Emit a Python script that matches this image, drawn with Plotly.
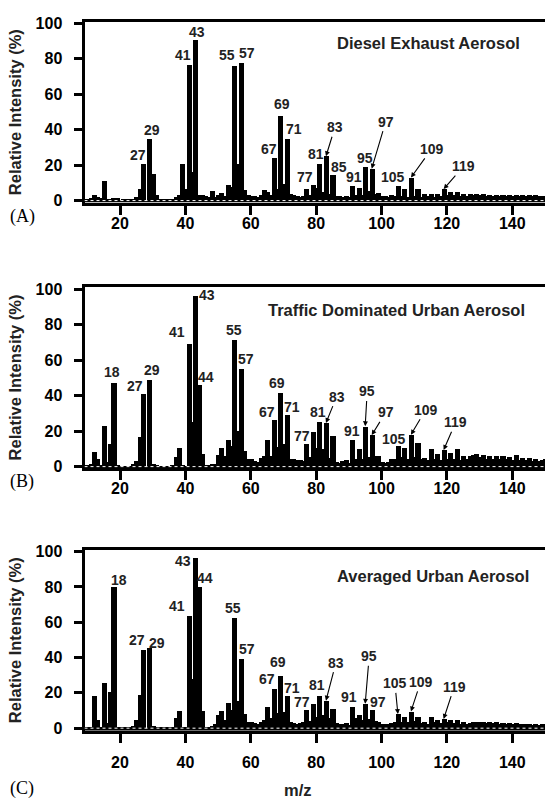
import plotly.graph_objects as go

# ---------------- data ----------------
mz = list(range(10, 151))

diesel = [1.0, 1.5, 3.0, 2.0, 1.5, 11.0, 1.0, 1.0, 1.5, 1.5,
          0.0, 0.8, 0.8, 0.8, 1.0, 2.0, 6.5, 21.0, 0.0, 35.0,
          15.0, 3.0, 1.0, 1.0, 1.0, 1.0, 1.2, 2.0, 3.5, 20.5,
          6.5, 76.5, 16.5, 90.5, 3.0, 3.5, 2.5, 2.0, 5.5, 2.0,
          3.5, 4.5, 2.5, 9.0, 8.0, 76.0, 20.5, 77.5, 6.0, 3.0,
          2.5, 2.5, 2.0, 3.0, 6.0, 5.0, 3.0, 24.0, 6.5, 48.0,
          9.5, 35.0, 4.0, 3.0, 2.5, 2.2, 2.5, 6.5, 3.5, 9.0,
          7.0, 21.0, 5.0, 25.0, 4.0, 14.5, 2.5, 2.5, 2.2, 2.5,
          2.2, 8.3, 3.0, 7.4, 3.0, 18.9, 5.5, 18.0, 4.0, 4.4,
          2.5, 2.5, 2.2, 3.0, 2.5, 8.1, 2.6, 6.7, 2.2, 13.0,
          2.6, 6.5, 2.2, 3.7, 2.6, 4.0, 2.4, 4.0, 2.6, 6.5,
          3.0, 5.0, 3.0, 5.2, 2.6, 3.7, 2.6, 3.7, 3.0, 4.0,
          3.0, 3.7, 2.8, 3.5, 2.8, 3.5, 2.8, 3.5, 2.8, 3.3,
          2.6, 3.3, 2.6, 3.3, 2.6, 3.2, 2.5, 3.0, 2.5, 2.8,
          2.5]

traffic = [1.0, 1.5, 8.5, 4.5, 1.0, 23.0, 3.0, 13.0, 47.5, 1.0,
           0.8, 0.8, 0.8, 0.8, 1.5, 3.5, 17.0, 41.0, 0.0, 49.0,
           2.0, 1.0, 0.8, 0.8, 0.8, 0.8, 1.0, 5.5, 10.5, 1.0,
           0.8, 69.4, 25.6, 96.5, 46.0, 7.5, 1.0, 1.0, 1.5, 2.0,
           7.0, 11.0, 6.0, 15.5, 11.8, 71.7, 20.5, 55.0, 9.0, 4.5,
           4.5, 3.5, 3.0, 5.0, 6.5, 15.5, 6.5, 26.5, 11.5, 42.0,
           13.0, 29.4, 4.8, 4.5, 3.8, 3.8, 3.3, 12.8, 5.5, 20.0,
           10.5, 25.5, 10.0, 24.6, 5.0, 17.4, 3.0, 2.2, 3.3, 4.0,
           2.2, 15.4, 4.8, 10.4, 4.8, 22.8, 5.7, 17.8, 6.3, 6.3,
           3.0, 2.5, 3.0, 4.8, 4.8, 11.7, 5.7, 10.7, 4.8, 18.0,
           5.7, 13.5, 4.8, 5.2, 3.9, 10.0, 4.8, 7.6, 3.9, 9.4,
           4.8, 8.1, 4.4, 10.0, 3.9, 6.3, 4.8, 6.1, 7.0, 7.4,
           5.7, 6.7, 4.8, 6.3, 4.8, 6.3, 4.8, 6.3, 4.4, 5.7,
           3.9, 6.7, 3.9, 5.2, 3.9, 5.2, 3.5, 4.8, 3.3, 3.9,
           4.4]

averaged = [1.0, 1.0, 18.4, 4.8, 1.0, 25.7, 3.4, 21.0, 80.0, 1.0,
            0.8, 0.8, 0.8, 0.8, 1.5, 4.6, 19.0, 44.5, 0.0, 45.4,
            1.5, 0.8, 0.8, 0.8, 0.8, 0.8, 1.0, 5.8, 10.0, 1.0,
            0.8, 63.7, 28.0, 96.8, 80.4, 9.9, 1.0, 1.0, 1.5, 2.5,
            7.6, 9.9, 4.8, 14.7, 10.4, 62.4, 15.8, 39.7, 8.2, 3.5,
            3.5, 3.0, 2.4, 3.5, 4.8, 12.3, 5.8, 22.5, 8.6, 30.0,
            9.5, 18.2, 3.5, 3.0, 2.4, 3.0, 3.5, 10.4, 4.3, 14.0,
            6.7, 18.2, 7.6, 15.6, 5.8, 11.0, 3.0, 2.4, 2.8, 3.2,
            2.0, 12.3, 5.8, 7.6, 4.8, 13.8, 5.4, 10.4, 4.3, 3.9,
            2.8, 2.4, 2.4, 3.2, 3.5, 8.0, 3.5, 6.7, 3.5, 9.5,
            4.3, 6.7, 3.0, 3.5, 2.8, 6.3, 3.5, 4.8, 3.0, 5.2,
            3.5, 4.8, 3.0, 4.8, 2.8, 3.5, 2.8, 3.2, 3.5, 3.9,
            3.5, 3.5, 3.2, 3.5, 3.0, 3.5, 2.8, 3.2, 2.8, 3.2,
            2.4, 3.2, 2.4, 2.8, 2.4, 2.8, 2.0, 2.4, 2.0, 2.8,
            2.4]

panel_titles = ["Diesel Exhaust Aerosol",
                "Traffic Dominated Urban Aerosol",
                "Averaged Urban Aerosol"]
panel_letters = ["(A)", "(B)", "(C)"]

diesel_peaks = [27, 29, 41, 43, 55, 57, 67, 69, 71, 77, 81, 83, 85, 91, 95, 97, 105, 109, 119]
traffic_peaks = [18, 27, 29, 41, 43, 44, 55, 57, 67, 69, 71, 77, 81, 83, 91, 95, 97, 105, 109, 119]
averaged_peaks = [18, 27, 29, 41, 43, 44, 55, 57, 67, 69, 71, 77, 81, 83, 91, 95, 97, 105, 109, 119]

x_ticks = [20, 40, 60, 80, 100, 120, 140]
y_ticks = [0, 20, 40, 60, 80, 100]

# ---------------- style (label offsets in px: dx, dy, arrow) ----------------
diesel_off = {27: (-5, -8, 0), 29: (3, -8, 0), 41: (-6, -10, 0), 43: (2, -8, 0),
              55: (-7.5, -11, 0), 57: (6, -10, 0), 67: (-5, -9, 0), 69: (1.5, -11.5, 0),
              71: (7, -9, 0), 77: (-1.5, -12, 0), 81: (-3, -9, 0), 83: (9, -29, 1),
              85: (6.5, -8, 0), 91: (2, -9, 0), 95: (0, -9, 0), 97: (14, -47, 1),
              105: (-5, -9.5, 0), 109: (20.7, -28.6, 1), 119: (20, -23, 1)}
traffic_off = {18: (-1, -10, 0), 27: (-8, -7.5, 0), 29: (2.3, -10, 0), 41: (-12, -12, 0),
               43: (11.5, 0, 0), 44: (8, -8.5, 0), 55: (0, -9, 0), 57: (5, -10, 0),
               67: (-7, -7.4, 0), 69: (-3, -8.7, 0), 71: (5, -7.3, 0), 77: (-4.7, -8.3, 0),
               81: (-1, -9.3, 0), 83: (10.7, -26.4, 1), 91: (0, -8.5, 0), 95: (2, -34.7, 1),
               97: (14, -22.7, 1), 105: (-4, -7, 0), 109: (14.7, -25, 1), 119: (12, -27.7, 1)}
averaged_off = {18: (6, -7.3, 0), 27: (-5.6, -10, 0), 29: (7.3, -5.3, 0), 41: (-12, -10, 0),
                43: (-12, 4, 0), 44: (6.5, -8.7, 0), 55: (-1, -10, 0), 57: (5.7, -9, 0),
                67: (-7, -9, 0), 69: (-2, -13.6, 0), 71: (5, -8, 0), 77: (-4.7, -7.4, 0),
                81: (-2, -10.7, 0), 83: (10, -38, 1), 91: (-3, -9, 0), 95: (4, -47.6, 1),
                97: (6, -8, 0), 105: (-3, -30.7, 1), 109: (9.7, -29.6, 1), 119: (10.6, -32.3, 1)}

W, H = 545, 804
SANS = "Liberation Sans, Arial, sans-serif"
SERIF = "Liberation Serif, Times New Roman, serif"

x_range = [9.14, 150.0]
x_domain = [84.5 / W, 1.0]
panels = [
    dict(data=diesel, peaks=diesel_peaks, off=diesel_off, ydom=[0.7525, 0.9813], yr=[-1.1, 100.8],
         title_xy=(428, 37), letter_xy=(22.5, 213), ymid=107, standoff=-5),
    dict(data=traffic, peaks=traffic_peaks, off=traffic_off, ydom=[0.4164, 0.6461], yr=[-0.8, 101.5],
         title_xy=(396.7, 308.3), letter_xy=(22, 483), ymid=377, standoff=-5),
    dict(data=averaged, peaks=averaged_peaks, off=averaged_off, ydom=[0.0840, 0.3132], yr=[-1.4, 101.2],
         title_xy=(433.3, 579), letter_xy=(21.5, 795), ymid=644.4, standoff=6),
]

fig = go.Figure()
annotations = []
shapes = []

for i, p in enumerate(panels):
    sfx = "" if i == 0 else str(i + 1)
    xa, ya = "x" + sfx, "y" + sfx
    fig.add_trace(go.Bar(x=mz, y=p["data"], width=1.55,
                         marker=dict(color="black", line=dict(width=0)),
                         xaxis=xa, yaxis=ya, showlegend=False, hoverinfo="x+y"))

    axis_common = dict(showgrid=False, zeroline=False, showline=True, linewidth=3, linecolor="black",
                       ticks="outside", tickwidth=3, tickcolor="black",
                       tickfont=dict(family=SANS, size=16, color="black", weight="bold"))
    fig.update_layout(**{
        ("xaxis" + sfx): dict(domain=x_domain, range=x_range, tickvals=x_ticks, ticklen=9, mirror=True,
                              anchor=ya, ticklabelstandoff=p["standoff"], **axis_common),
        ("yaxis" + sfx): dict(domain=p["ydom"], range=p["yr"], tickvals=y_ticks, ticklen=8, mirror=False,
                              anchor=xa, ticklabelstandoff=8, **axis_common),
    })

    # black baseline band and white dotted zero line
    shapes.append(dict(type="rect", xref=xa, yref=ya, x0=x_range[0], x1=x_range[1], y0=p["yr"][0], y1=0,
                       fillcolor="black", line=dict(width=0), layer="below"))
    shapes.append(dict(type="line", xref=xa, yref=ya, x0=x_range[0], x1=x_range[1], y0=0, y1=0,
                       line=dict(color="white", width=1, dash="dot"), layer="above"))

    # peak labels
    for m in p["peaks"]:
        v = p["data"][mz.index(m)]
        dx, dy, arrow = p["off"][m]
        if arrow:
            annotations.append(dict(x=m, y=v, xref=xa, yref=ya, text=str(m), showarrow=True,
                                    ax=dx, ay=dy, axref="pixel", ayref="pixel",
                                    arrowhead=2, arrowsize=0.9, arrowwidth=1.1, arrowcolor="black",
                                    standoff=0, startstandoff=0,
                                    font=dict(family=SANS, size=14, color="#222", weight="bold")))
        else:
            annotations.append(dict(x=m, y=v, xref=xa, yref=ya, text=str(m), showarrow=False,
                                    xshift=dx, yshift=-dy, xanchor="center", yanchor="middle",
                                    font=dict(family=SANS, size=14, color="#222", weight="bold")))

    # panel title
    tx, ty = p["title_xy"]
    annotations.append(dict(x=tx / W, y=1 - ty / H, xref="paper", yref="paper", text=panel_titles[i],
                            showarrow=False, xanchor="center", yanchor="middle",
                            font=dict(family=SANS, size=16.5, color="#222", weight="bold")))
    # panel letter
    lx, ly = p["letter_xy"]
    annotations.append(dict(x=lx / W, y=1 - ly / H, xref="paper", yref="paper", text=panel_letters[i],
                            showarrow=False, xanchor="center", yanchor="middle",
                            font=dict(family=SERIF, size=18, color="black")))
    # y title
    annotations.append(dict(x=15 / W, y=1 - p["ymid"] / H, xref="paper", yref="paper",
                            text="Relative Intensity (%)", textangle=-90, showarrow=False,
                            xanchor="center", yanchor="middle",
                            font=dict(family=SANS, size=16.5, color="#222", weight="bold")))

annotations.append(dict(x=298 / W, y=1 - 797 / H, xref="paper", yref="paper", text="m/z",
                        showarrow=False, xanchor="center", yanchor="middle",
                        font=dict(family=SANS, size=16.5, color="#222", weight="bold")))

fig.update_layout(width=W, height=H, margin=dict(l=0, r=0, t=0, b=0),
                  paper_bgcolor="white", plot_bgcolor="white",
                  annotations=annotations, shapes=shapes, bargap=0)

fig.write_html("out.html")
